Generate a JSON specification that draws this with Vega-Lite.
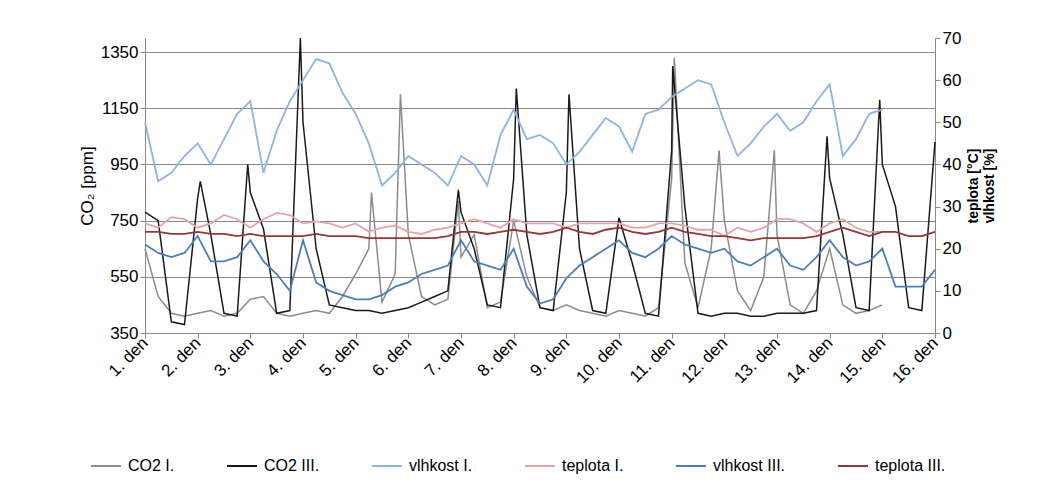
{
"$schema":"https://vega.github.io/schema/vega-lite/6.json",
"width":790,"height":295,"autosize":"none",
"padding":{"left":145,"top":38,"right":121,"bottom":152},
"config":{"font":"Liberation Sans","axis":{"labelFont":"Liberation Sans","titleFont":"Liberation Sans","labelFontSize":17,"labelColor":"#000","titleColor":"#000","domainColor":"#888","tickColor":"#888"},"view":{"stroke":null},"legend":{"labelFontSize":16,"labelColor":"#000"}},
"data":{"values":[
{"t":1,"a":650,"b":780,"c":50,"d":26,"e":21,"f":24},
{"t":1.25,"a":480,"b":750,"c":36,"d":25,"e":19,"f":24},
{"t":1.5,"a":420,"b":390,"c":38,"d":27.5,"e":18,"f":23.5},
{"t":1.75,"a":410,"b":380,"c":42,"d":27,"e":19,"f":23.5},
{"t":2,"a":420,"b":830,"c":45,"d":25,"e":23,"f":24},
{"t":2.05,"b":890},
{"t":2.25,"a":430,"b":700,"c":40,"d":26,"e":17,"f":23.5},
{"t":2.5,"a":410,"b":420,"c":46,"d":28,"e":17,"f":23.5},
{"t":2.75,"a":420,"b":410,"c":52,"d":27,"e":18,"f":23},
{"t":2.95,"b":950},
{"t":3,"a":470,"b":850,"c":55,"d":25,"e":22,"f":23.5},
{"t":3.25,"a":480,"b":720,"c":38,"d":27,"e":17,"f":23},
{"t":3.5,"a":420,"b":420,"c":48,"d":28.5,"e":14,"f":23},
{"t":3.75,"a":410,"b":430,"c":55,"d":28,"e":10,"f":23},
{"t":3.95,"b":1400},
{"t":4,"a":420,"b":1100,"c":60,"d":26,"e":22,"f":23},
{"t":4.25,"a":430,"b":650,"c":65,"d":26.5,"e":12,"f":23.5},
{"t":4.5,"a":420,"b":450,"c":64,"d":26,"e":10,"f":23},
{"t":4.75,"a":480,"b":440,"c":57,"d":25,"e":9,"f":23},
{"t":5,"a":560,"b":430,"c":52,"d":26,"e":8,"f":23},
{"t":5.25,"a":650,"b":430,"c":45,"d":24,"e":8,"f":22.5},
{"t":5.3,"a":850},
{"t":5.5,"a":460,"b":420,"c":35,"d":25,"e":9,"f":22.5},
{"t":5.75,"a":560,"b":430,"c":38,"d":25.5,"e":11,"f":22.5},
{"t":5.85,"a":1200},
{"t":6,"a":700,"b":440,"c":42,"d":24,"e":12,"f":22.5},
{"t":6.25,"a":480,"b":460,"c":40,"d":23.5,"e":14,"f":22.5},
{"t":6.5,"a":450,"b":480,"c":38,"d":24.5,"e":15,"f":22.5},
{"t":6.75,"a":470,"b":500,"c":35,"d":25,"e":16,"f":23},
{"t":6.95,"a":820,"b":860},
{"t":7,"a":620,"b":780,"c":42,"d":26,"e":22,"f":24},
{"t":7.25,"a":700,"b":650,"c":40,"d":27,"e":17,"f":24},
{"t":7.5,"a":440,"b":450,"c":35,"d":26,"e":16,"f":23.5},
{"t":7.75,"a":460,"b":440,"c":47,"d":25,"e":15,"f":24},
{"t":8,"a":750,"b":900,"c":53,"d":27,"e":20,"f":24.5},
{"t":8.05,"b":1220},
{"t":8.25,"a":550,"b":700,"c":46,"d":26,"e":11,"f":24},
{"t":8.5,"a":440,"b":440,"c":47,"d":26,"e":7,"f":23.5},
{"t":8.75,"a":430,"b":430,"c":45,"d":26,"e":8,"f":24},
{"t":9,"a":450,"b":850,"c":40,"d":25,"e":13,"f":25},
{"t":9.05,"b":1200},
{"t":9.25,"a":430,"b":650,"c":43,"d":26,"e":16,"f":24},
{"t":9.5,"a":420,"b":430,"c":47,"d":26,"e":18,"f":23.5},
{"t":9.75,"a":410,"b":420,"c":51,"d":26,"e":20,"f":24.5},
{"t":10,"a":430,"b":760,"c":49,"d":26,"e":22,"f":25},
{"t":10.25,"a":420,"b":600,"c":43,"d":25,"e":19,"f":24},
{"t":10.5,"a":410,"b":420,"c":52,"d":25,"e":18,"f":23.5},
{"t":10.75,"a":440,"b":410,"c":53,"d":26,"e":20,"f":24},
{"t":11,"a":900,"b":1000,"c":56,"d":26,"e":23,"f":25},
{"t":11.02,"b":1300},
{"t":11.05,"a":1330},
{"t":11.25,"a":600,"b":800,"c":58,"d":25.5,"e":21,"f":24},
{"t":11.5,"a":440,"b":420,"c":60,"d":24.5,"e":20,"f":23.5},
{"t":11.75,"a":650,"b":410,"c":59,"d":24.5,"e":19,"f":23},
{"t":11.9,"a":1000},
{"t":12,"a":750,"b":420,"c":50,"d":23,"e":20,"f":23},
{"t":12.25,"a":500,"b":420,"c":42,"d":25,"e":17,"f":22.5},
{"t":12.5,"a":430,"b":410,"c":45,"d":24,"e":16,"f":22},
{"t":12.75,"a":550,"b":410,"c":49,"d":25,"e":18,"f":22.5},
{"t":12.95,"a":1000},
{"t":13,"a":700,"b":420,"c":52,"d":27,"e":20,"f":22.5},
{"t":13.25,"a":450,"b":420,"c":48,"d":27,"e":16,"f":22.5},
{"t":13.5,"a":420,"b":420,"c":50,"d":26,"e":15,"f":22.5},
{"t":13.75,"a":500,"b":430,"c":55,"d":24,"e":18,"f":23},
{"t":13.95,"b":1050},
{"t":14,"a":650,"b":900,"c":59,"d":26,"e":22,"f":24},
{"t":14.25,"a":450,"b":700,"c":42,"d":27,"e":18,"f":25},
{"t":14.5,"a":420,"b":440,"c":46,"d":25,"e":16,"f":24},
{"t":14.75,"a":430,"b":430,"c":52,"d":24,"e":17,"f":23},
{"t":14.95,"b":1180},
{"t":15,"a":450,"b":950,"c":53,"d":24,"e":20,"f":24},
{"t":15.25,"b":800,"e":11,"f":24},
{"t":15.5,"b":440,"e":11,"f":23},
{"t":15.75,"b":430,"e":11,"f":23},
{"t":16,"b":1030,"e":15,"f":24}
]},
"encoding":{
"x":{"field":"t","type":"quantitative","scale":{"domain":[1,16],"nice":false},
"axis":{"values":[1,2,3,4,5,6,7,8,9,10,11,12,13,14,15,16],"labelExpr":"datum.value+'. den'","labelAngle":-45,"grid":false,"title":null,"labelAlign":"right","labelBaseline":"middle","domain":true,"tickSize":5}},
"color":{"field":"k","type":"nominal","scale":{"domain":["a","b","c","d","e","f"],"range":["#8c8c8c","#1a1a1a","#8db4e2","#e6a5a5","#4a7ebb","#953735"]},
"legend":{"orient":"none","legendX":-55,"legendY":412,"direction":"horizontal","title":null,"symbolType":"stroke","symbolStrokeWidth":2,"symbolSize":900,"labelOffset":6,"columnPadding":48,"labelExpr":"{'a':'CO2 I.','b':'CO2 III.','c':'vlhkost I.','d':'teplota I.','e':'vlhkost III.','f':'teplota III.'}[datum.value]"}}
},
"layer":[
{"transform":[{"fold":["a","b"],"as":["k","v"]},{"filter":"datum.v != null"}],
"mark":{"type":"line","strokeWidth":1.5},
"encoding":{"y":{"field":"v","type":"quantitative","scale":{"domain":[350,1400],"nice":false},
"axis":{"values":[350,550,750,950,1150,1350],"format":"d","title":"CO₂ [ppm]","titleFontSize":17,"titleFontWeight":"normal","gridColor":"#888","tickSize":5}}}},
{"transform":[{"fold":["c","d","e","f"],"as":["k","v"]},{"filter":"datum.v != null"}],
"mark":{"type":"line","strokeWidth":1.8},
"encoding":{"y":{"field":"v","type":"quantitative","scale":{"domain":[0,70],"nice":false},
"axis":{"orient":"right","values":[0,10,20,30,40,50,60,70],"grid":false,"title":["teplota [°C]","vlhkost [%]"],"titleAngle":270,"titleFontSize":14,"titleFontWeight":"bold","tickSize":5}}}}
],
"resolve":{"scale":{"y":"independent"}}
}
